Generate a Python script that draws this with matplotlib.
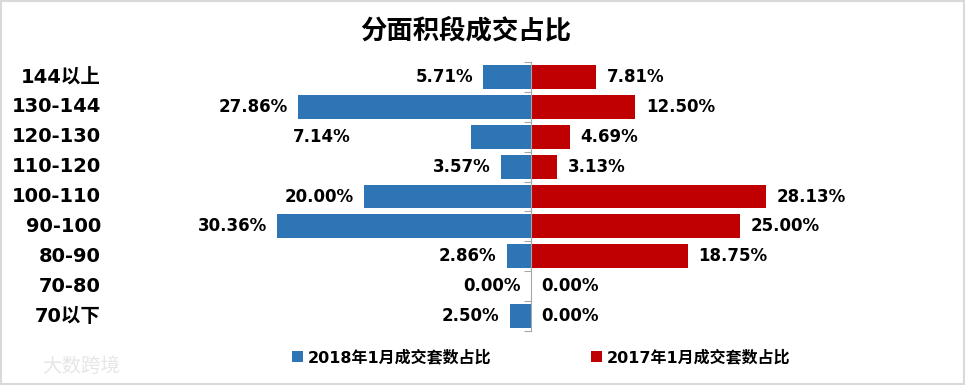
#Libraries
import numpy as np
import matplotlib.pyplot as plt
from matplotlib.patches import Rectangle
from matplotlib.transforms import blended_transform_factory

plt.rcParams['font.family'] = ['DejaVu Sans', 'Noto Sans CJK SC']

#Data
categories = ['144以上', '130-144', '120-130', '110-120', '100-110',
              '90-100', '80-90', '70-80', '70以下']
share_2018 = [5.71, 27.86, 7.14, 3.57, 20.00, 30.36, 2.86, 0.00, 2.50]
share_2017 = [7.81, 12.50, 4.69, 3.13, 28.13, 25.00, 18.75, 0.00, 0.00]
series_names = ['2018年1月成交套数占比', '2017年1月成交套数占比']

blue = '#2E75B6'
red = '#C00000'

fig = plt.figure(figsize=(9.65, 3.85), dpi=100)
ax = fig.add_axes([150 / 965, 1 - 331 / 385, 750 / 965, 269 / 385])

y = np.arange(len(categories))
left_vals = -np.array(share_2018)
right_vals = np.array(share_2017)

b1 = ax.barh(y, left_vals, height=0.8, color=blue, label=series_names[0])
b2 = ax.barh(y, right_vals, height=0.8, color=red, label=series_names[1])

ax.set_xlim(-(531 - 150) / 8.35, (900 - 531) / 8.35)
ax.set_ylim(len(categories) - 0.5, -0.5)

#axis in the middle
for s in ['top', 'right', 'bottom']:
    ax.spines[s].set_visible(False)
ax.spines['left'].set_position(('data', 0))
ax.spines['left'].set_color('#a6a6a6')
ax.set_yticks(np.arange(len(categories) + 1) - 0.5)
ax.tick_params(axis='y', length=5, color='#a6a6a6', labelleft=False)
ax.set_xticks([])

#category labels
trans = blended_transform_factory(fig.transFigure, ax.transData)
for i, c in enumerate(categories):
    ax.text(101 / 965, i, c, transform=trans, ha='right', va='center',
            fontsize=14, fontweight='bold')

#value labels (one label pulled further left, as in the original)
label_nudge = [0, 0, -110, 0, 0, 0, 0, 0, 0]
for i in range(len(categories)):
    ax.annotate(f'{share_2018[i]:.2f}%', (left_vals[i], i),
                xytext=(-7.5 + label_nudge[i] * 0.72, 0), textcoords='offset points',
                ha='right', va='center', fontsize=12, fontweight='bold')
    ax.annotate(f'{share_2017[i]:.2f}%', (right_vals[i], i),
                xytext=(7.5, 0), textcoords='offset points',
                ha='left', va='center', fontsize=12, fontweight='bold')

#title
fig.text(466 / 965, 1 - 31 / 385, '分面积段成交占比', ha='center', va='center',
         fontsize=19, fontweight='bold', family=['Noto Sans CJK SC'])

#legend
fig.legend(handles=[b1, b2], loc='center', bbox_to_anchor=(541 / 965, 1 - 357 / 385),
           ncol=2, frameon=False, handlelength=0.7, handleheight=0.7,
           handletextpad=0.3, columnspacing=6.2,
           prop={'family': ['DejaVu Sans', 'Noto Sans CJK SC'], 'weight': 'bold', 'size': 11.5})

#watermark
fig.text(42 / 965, 1 - 366 / 385, '大数跨境', ha='left', va='center', fontsize=14,
         color='#e6e6e6', family=['Noto Sans CJK SC'])

#border
fig.patches.append(Rectangle((0.001, 0.002), 0.998, 0.996, transform=fig.transFigure,
                             fill=False, edgecolor='#d9d9d9', linewidth=1.5))

fig.savefig('out.png', dpi=100)
